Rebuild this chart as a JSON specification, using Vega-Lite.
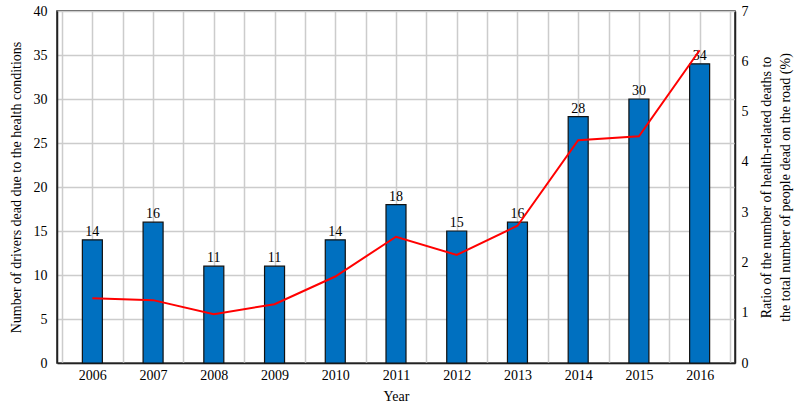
{
  "$schema": "https://vega.github.io/schema/vega-lite/v6.json",
  "autosize": "none",
  "width": 678,
  "height": 352,
  "padding": {"left": 57, "top": 11, "right": 62, "bottom": 45},
  "config": {
    "font": "Liberation Serif",
    "view": {"stroke": "#222222", "strokeWidth": 1.5},
    "axis": {
      "labelFont": "Liberation Serif",
      "titleFont": "Liberation Serif",
      "labelFontSize": 14,
      "titleFontSize": 14,
      "titleFontWeight": "normal",
      "labelColor": "#000000",
      "titleColor": "#000000",
      "ticks": false,
      "domainColor": "#222222",
      "domainWidth": 1.5,
      "gridColor": "#cccccc",
      "gridWidth": 1.5
    }
  },
  "data": {
    "values": [
      {"year": 2006, "drivers": 14, "ratio": 1.29},
      {"year": 2007, "drivers": 16, "ratio": 1.25},
      {"year": 2008, "drivers": 11, "ratio": 0.97},
      {"year": 2009, "drivers": 11, "ratio": 1.17},
      {"year": 2010, "drivers": 14, "ratio": 1.72},
      {"year": 2011, "drivers": 18, "ratio": 2.51},
      {"year": 2012, "drivers": 15, "ratio": 2.15},
      {"year": 2013, "drivers": 16, "ratio": 2.73},
      {"year": 2014, "drivers": 28, "ratio": 4.43},
      {"year": 2015, "drivers": 30, "ratio": 4.51},
      {"year": 2016, "drivers": 34, "ratio": 6.22}
    ]
  },
  "encoding": {
    "x": {
      "field": "year",
      "type": "quantitative",
      "scale": {"domain": [2005.5, 2016.5], "nice": false, "zero": false},
      "axis": {
        "values": [2005.5, 2006, 2006.5, 2007, 2007.5, 2008, 2008.5, 2009, 2009.5, 2010, 2010.5, 2011, 2011.5, 2012, 2012.5, 2013, 2013.5, 2014, 2014.5, 2015, 2015.5, 2016, 2016.5],
        "labelExpr": "datum.value % 1 === 0 ? format(datum.value, 'd') : ''",
        "title": "Year",
        "grid": true,
        "labelPadding": 5,
        "titlePadding": 7,
        "labelFlush": false,
        "labelOverlap": false
      }
    }
  },
  "layer": [
    {
      "encoding": {
        "y": {
          "field": "drivers",
          "type": "quantitative",
          "scale": {"domain": [0, 40], "nice": false},
          "axis": {
            "title": "Number of drivers dead due to the health conditions",
            "values": [0, 5, 10, 15, 20, 25, 30, 35, 40],
            "grid": true,
            "labelPadding": 10,
            "titlePadding": 10
          }
        }
      },
      "layer": [
        {
          "mark": {"type": "bar", "width": 20, "fill": "#0070C0", "stroke": "#111111", "strokeWidth": 1.2}
        },
        {
          "mark": {"type": "text", "baseline": "bottom", "dy": -1, "fontSize": 14, "color": "#000000", "font": "Liberation Serif"},
          "encoding": {"text": {"field": "drivers", "type": "quantitative"}}
        }
      ]
    },
    {
      "mark": {"type": "line", "color": "#ff0000", "strokeWidth": 2},
      "encoding": {
        "y": {
          "field": "ratio",
          "type": "quantitative",
          "scale": {"domain": [0, 7], "nice": false},
          "axis": {
            "orient": "right",
            "title": ["Ratio of the number of health-related deaths to", "the total number of people dead on the road (%)"],
            "titleAngle": -90,
            "values": [0, 1, 2, 3, 4, 5, 6, 7],
            "grid": false,
            "labelPadding": 6,
            "titlePadding": 6,
            "titleLineHeight": 19
          }
        }
      }
    }
  ],
  "resolve": {"scale": {"y": "independent"}}
}
